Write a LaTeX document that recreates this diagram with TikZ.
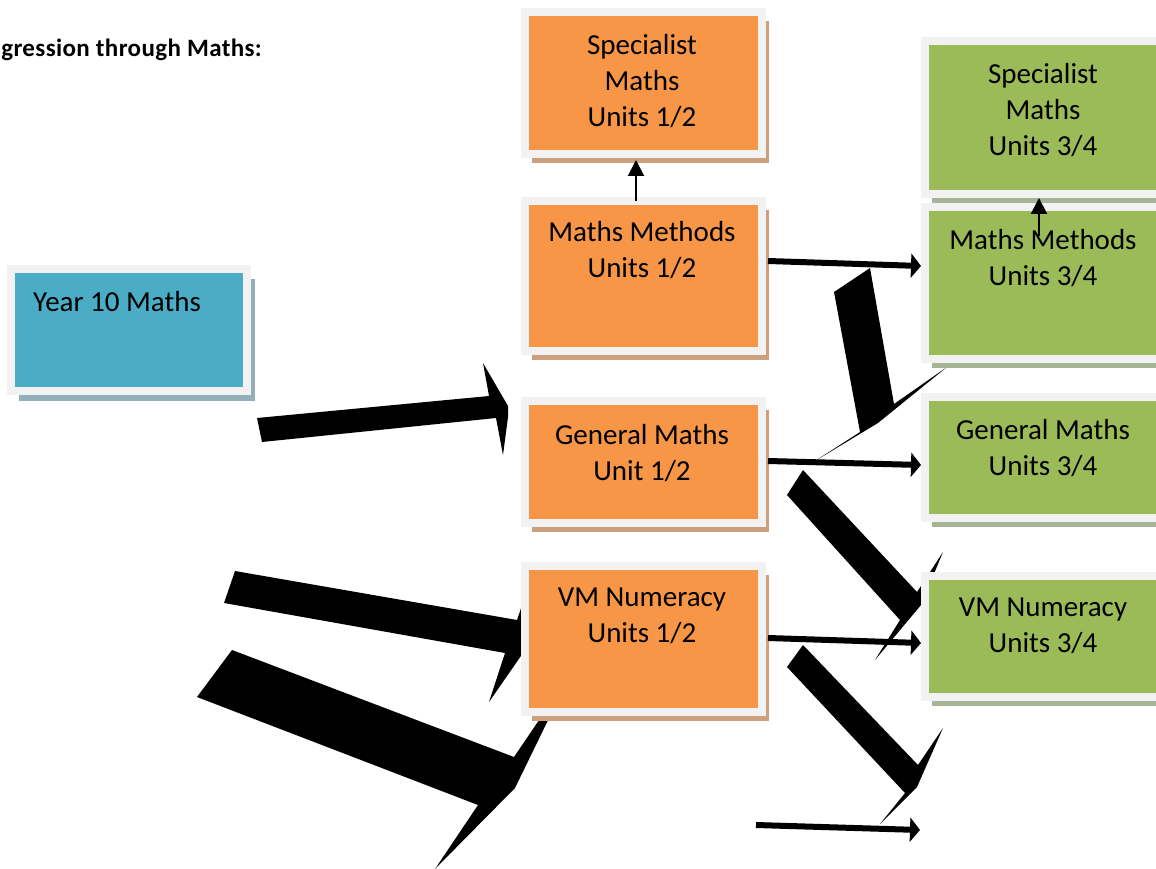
\documentclass[tikz,border=0pt]{standalone}
\usepackage{fontspec}
\setmainfont{Carlito}
\usetikzlibrary{arrows.meta,shadows,calc}
\definecolor{orng}{HTML}{F79646}
\definecolor{grn}{HTML}{9BBB59}
\definecolor{blu}{HTML}{4BACC6}
\definecolor{frame}{HTML}{F2F2F2}
\definecolor{oshadow}{HTML}{CDA07D}
\definecolor{gshadow}{HTML}{A7B496}
\definecolor{bshadow}{HTML}{93AFBA}
\begin{document}
\begin{tikzpicture}[x=1pt,y=-1pt,
  basebox/.style={rectangle, draw=frame, line width=8pt, inner sep=0pt},
  obox/.style={basebox, fill=orng, general shadow={fill=oshadow, shadow xshift=7pt, shadow yshift=-9pt}},
  gbox/.style={basebox, fill=grn, general shadow={fill=gshadow, shadow xshift=7pt, shadow yshift=-9pt}},
  bbox/.style={basebox, fill=blu, general shadow={fill=bshadow, shadow xshift=8pt, shadow yshift=-10pt}},
  lbl/.style={font=\fontsize{29}{36}\selectfont, align=center, inner sep=0pt, text=black},
  thinarr/.style={line width=6pt, -{Triangle[length=10pt,width=24pt]}},
  uparr/.style={line width=2pt, -{Triangle[length=16pt,width=16pt]}},
  blk/.style={fill=black}]
\useasboundingbox (0,0) rectangle (1156,869);
\clip (0,0) rectangle (1156,869);

% title
\node[font=\bfseries\fontsize{25}{29}\selectfont\addfontfeatures{LetterSpace=1.5}, anchor=east, inner sep=0pt] (title) at (262,50) {gression through Maths:};

% big block arrows
\fill[blk] (257,418) -- (489,396) -- (483,363) -- (508,406) -- (508,417) -- (503,455) -- (496,418) -- (262,442) -- cycle;
\fill[blk] (235,571) -- (517,620) -- (526,594) -- (532,640) -- (489,702) -- (505,653) -- (224,603) -- cycle;
\fill[blk] (232,650) -- (514,757) -- (571,673) -- (515,788) -- (435,869) -- (478,805) -- (197,697) -- cycle;
\fill[blk] (834,292) -- (870,268) -- (894,404) -- (947,367) -- (878,423) -- (815,461) -- (860,432) -- cycle;
\fill[blk] (803,470) -- (917,592) -- (943,552) -- (921,605) -- (875,660) -- (900,620) -- (787,495) -- cycle;
\fill[blk] (803,645) -- (918,765) -- (943,728) -- (917,787) -- (880,824) -- (905,793) -- (787,667) -- cycle;

% boxes
\node[bbox, minimum width=236pt, minimum height=122pt] (y10) at (129,330) {};
\node[obox, minimum width=237pt, minimum height=142pt] (sp12) at (643.5,83) {};
\node[obox, minimum width=237pt, minimum height=150pt] (mm12) at (643.5,276) {};
\node[obox, minimum width=237pt, minimum height=122pt] (gm12) at (643.5,462) {};
\node[obox, minimum width=237pt, minimum height=146pt] (vm12) at (643.5,639) {};
\node[gbox, minimum width=251pt, minimum height=153pt] (sp34) at (1050.5,117.5) {};
\node[gbox, minimum width=251pt, minimum height=152pt] (mm34) at (1050.5,283) {};
\node[gbox, minimum width=251pt, minimum height=121pt] (gm34) at (1050.5,457.5) {};
\node[gbox, minimum width=251pt, minimum height=121pt] (vm34) at (1050.5,636.5) {};

% texts
\node[lbl, anchor=west] (t10) at (33,302) {Year 10 Maths};
\node[lbl] (tsp12) at (642,81) {Specialist\\Maths\\Units 1/2};
\node[lbl] (tmm12) at (642,250) {Maths Methods\\Units 1/2};
\node[lbl] (tgm12) at (642,453) {General Maths\\Unit 1/2};
\node[lbl] (tvm12) at (642,616) {VM Numeracy\\Units 1/2};
\node[lbl] (tsp34) at (1043,110) {Specialist\\Maths\\Units 3/4};
\node[lbl] (tmm34) at (1043,258) {Maths Methods\\Units 3/4};
\node[lbl] (tgm34) at (1043,448) {General Maths\\Units 3/4};
\node[lbl] (tvm34) at (1043,626) {VM Numeracy\\Units 3/4};

% thin arrows
\draw[thinarr] ([xshift=2pt,yshift=15pt]mm12.east) -- ([yshift=17pt]mm34.west);
\draw[thinarr] ([xshift=2pt,yshift=1pt]gm12.east) -- ([yshift=-7.5pt]gm34.west);
\draw[thinarr] ([xshift=2pt,yshift=1pt]vm12.east) -- ([yshift=-6.5pt]vm34.west);
\coordinate (bs) at (756,825);
\coordinate (be) at (920,830);
\draw[thinarr] (bs) -- (be);

% up arrows
\draw[uparr] ([xshift=-7.5pt,yshift=-4pt]mm12.north) -- ([xshift=-7.5pt,yshift=-2pt]sp12.south);
\coordinate (mmt) at (1039,236);
\draw[uparr] (mmt) -- ([xshift=-11.5pt]sp34.south);
\end{tikzpicture}
\end{document}
